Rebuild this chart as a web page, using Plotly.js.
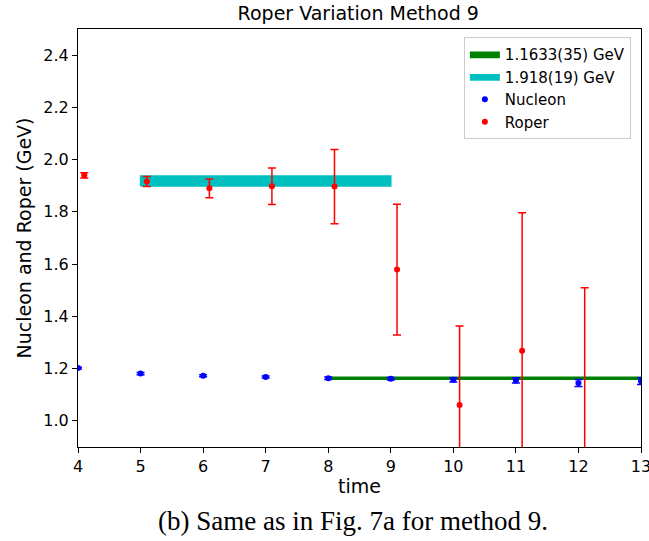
<!DOCTYPE html>
<html>
<head>
<meta charset="utf-8">
<script src="https://cdn.plot.ly/plotly-3.0.1.min.js"></script>
<style>html,body{margin:0;padding:0;background:#fff;}#chart{width:649px;height:541px;}</style>
</head>
<body>
<div id="chart"></div>
<script>
// Data
const nucleonTime = [4, 5, 6, 7, 8, 9, 10, 11, 12, 13];
const nucleonMass = [1.202, 1.181, 1.173, 1.168, 1.163, 1.161, 1.157, 1.155, 1.145, 1.152];
const nucleonErr  = [0.003, 0.004, 0.004, 0.004, 0.005, 0.005, 0.008, 0.010, 0.013, 0.013];

const roperTime = [4.1, 5.1, 6.1, 7.1, 8.1, 9.1, 10.1, 11.1, 12.1];
const roperMass = [1.940, 1.916, 1.890, 1.898, 1.897, 1.579, 1.061, 1.268, 0.85];
const roperErr  = [0.010, 0.019, 0.036, 0.070, 0.142, 0.250, 0.302, 0.529, 0.66];

const xTicks = [4, 5, 6, 7, 8, 9, 10, 11, 12, 13];
const yTicks = [1.0, 1.2, 1.4, 1.6, 1.8, 2.0, 2.2, 2.4];

const nucleonFit = {label: '1.1633(35) GeV', value: 1.1633, err: 0.0035, from: 8, to: 13};
const roperFit   = {label: '1.918(19) GeV',  value: 1.918,  err: 0.019,  from: 5, to: 9};

function band(fit, color) {
  return {
    x: [fit.from, fit.to, fit.to, fit.from, fit.from],
    y: [fit.value - fit.err, fit.value - fit.err, fit.value + fit.err, fit.value + fit.err, fit.value - fit.err],
    mode: 'lines', fill: 'toself', fillcolor: color,
    line: {color: color, width: 1.5},
    name: fit.label, hoverinfo: 'skip'
  };
}

const traces = [
  band(nucleonFit, 'green'),
  band(roperFit, '#00bfbf'),
  {
    x: nucleonTime, y: nucleonMass, mode: 'markers', name: 'Nucleon',
    marker: {color: 'blue', size: 6},
    error_y: {type: 'data', array: nucleonErr, visible: true, color: 'blue', thickness: 1.5, width: 4}
  },
  {
    x: roperTime, y: roperMass, mode: 'markers', name: 'Roper',
    marker: {color: 'red', size: 6},
    error_y: {type: 'data', array: roperErr, visible: true, color: 'red', thickness: 1.5, width: 4}
  }
];

const layout = {
  width: 649, height: 541,
  margin: {l: 78, r: 8, t: 29, b: 94},
  paper_bgcolor: 'white', plot_bgcolor: 'white',
  font: {family: 'DejaVu Sans', size: 15, color: 'black'},
  title: {text: 'Roper Variation Method 9', font: {family: 'DejaVu Sans', size: 19}, x: 0.552, xanchor: 'center', y: 0.976, yanchor: 'middle'},
  xaxis: {
    range: [4, 13], tickvals: xTicks, ticktext: xTicks.map(String),
    ticklabeloverflow: 'allow',
    showgrid: false, zeroline: false,
    showline: true, mirror: true, linecolor: 'black', linewidth: 1,
    ticks: 'outside', ticklen: 5, tickcolor: 'black',
    tickfont: {size: 16},
    title: {text: 'time', font: {size: 19}, standoff: 4}
  },
  yaxis: {
    range: [0.9, 2.5], tickvals: yTicks, ticktext: yTicks.map(v => v.toFixed(1)),
    showgrid: false, zeroline: false,
    showline: true, mirror: true, linecolor: 'black', linewidth: 1,
    ticks: 'outside', ticklen: 5, tickcolor: 'black',
    tickfont: {size: 16},
    title: {text: 'Nucleon and Roper (GeV)', font: {size: 19}, standoff: 6}
  },
  legend: {
    x: 0.982, y: 0.981, xanchor: 'right', yanchor: 'top',
    bgcolor: 'white', bordercolor: '#cccccc', borderwidth: 1,
    font: {size: 15}, tracegroupgap: 0
  },
  annotations: [{
    text: '(b) Same as in Fig. 7a for method 9.',
    xref: 'paper', yref: 'paper', x: 0.488, y: -0.177,
    xanchor: 'center', yanchor: 'middle', showarrow: false,
    font: {family: 'Liberation Serif', size: 27, color: 'black'}
  }],
  showlegend: true
};

Plotly.newPlot('chart', traces, layout, {displayModeBar: false, staticPlot: true});
</script>
</body>
</html>
